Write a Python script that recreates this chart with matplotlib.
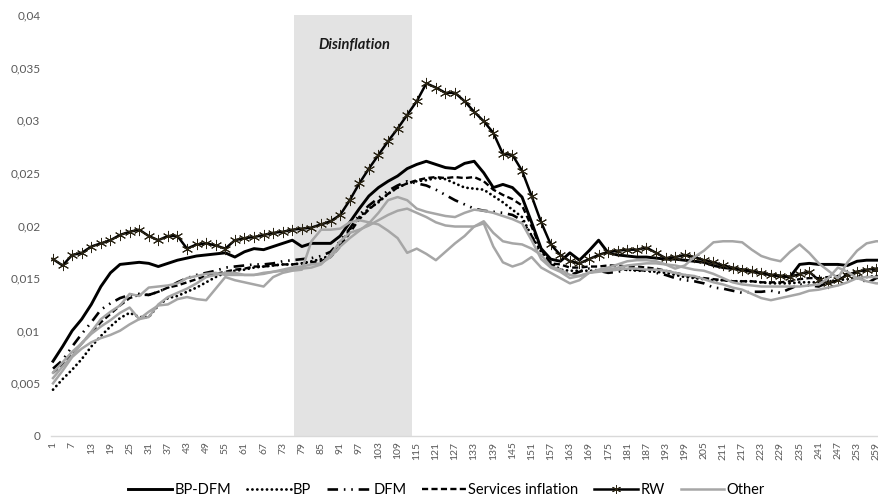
import matplotlib.pyplot as plt
import numpy as np

plt.rcParams['font.family'] = ['Lato', 'DejaVu Sans']

# observation index, sampled every 3rd period
obs = np.arange(1, 263, 3)
tick_obs = np.arange(1, 260, 6)

bp_dfm = [0.0071, 0.0085, 0.0100, 0.0111, 0.0125, 0.0142, 0.0155, 0.0163, 0.0164, 0.0165,
          0.0164, 0.0161, 0.0164, 0.0167, 0.0169, 0.0171, 0.0172, 0.0173, 0.0174, 0.0170,
          0.0175, 0.0178, 0.0177, 0.0180, 0.0183, 0.0186, 0.0180, 0.0183, 0.0183, 0.0183,
          0.0190, 0.0203, 0.0216, 0.0228, 0.0236, 0.0242, 0.0247, 0.0254, 0.0258, 0.0261,
          0.0258, 0.0255, 0.0254, 0.0259, 0.0261, 0.0250, 0.0236, 0.0239, 0.0236, 0.0227,
          0.0203, 0.0178, 0.0168, 0.0166, 0.0174, 0.0167, 0.0176, 0.0186, 0.0174, 0.0172,
          0.0171, 0.0170, 0.0170, 0.0169, 0.0168, 0.0168, 0.0167, 0.0166, 0.0165, 0.0162,
          0.0160, 0.0159, 0.0158, 0.0156, 0.0155, 0.0153, 0.0152, 0.0151, 0.0163, 0.0164,
          0.0163, 0.0163, 0.0163, 0.0162, 0.0166, 0.0167, 0.0167, 0.0167]

bp = [0.0044, 0.0054, 0.0063, 0.0073, 0.0085, 0.0095, 0.0104, 0.0112, 0.0117, 0.0113,
      0.0113, 0.0124, 0.0131, 0.0133, 0.0137, 0.0141, 0.0146, 0.0151, 0.0155, 0.0157,
      0.0158, 0.0160, 0.0161, 0.0162, 0.0163, 0.0163, 0.0164, 0.0166, 0.0168, 0.0172,
      0.0182, 0.0196, 0.0208, 0.0216, 0.0222, 0.0230, 0.0236, 0.0240, 0.0242, 0.0243,
      0.0245, 0.0244, 0.0240, 0.0236, 0.0235, 0.0234, 0.0228, 0.0222, 0.0215, 0.0208,
      0.0190, 0.0175, 0.0165, 0.0158, 0.0157, 0.0157, 0.0157, 0.0157, 0.0158, 0.0158,
      0.0158, 0.0157, 0.0157, 0.0156, 0.0155, 0.0153, 0.0151, 0.0150, 0.0149, 0.0148,
      0.0148, 0.0147, 0.0147, 0.0147, 0.0146, 0.0145, 0.0145, 0.0145, 0.0146, 0.0146,
      0.0146, 0.0147, 0.0148, 0.0149, 0.0150, 0.0151, 0.0152, 0.0152]

dfm = [0.0064, 0.0072, 0.0085, 0.0097, 0.0108, 0.0120, 0.0126, 0.0131, 0.0134, 0.0135,
       0.0134, 0.0137, 0.0141, 0.0146, 0.0150, 0.0153, 0.0155, 0.0157, 0.0160, 0.0161,
       0.0162, 0.0163, 0.0163, 0.0164, 0.0166, 0.0167, 0.0168, 0.0169, 0.0171, 0.0175,
       0.0185, 0.0197, 0.0210, 0.0219, 0.0226, 0.0233, 0.0238, 0.0242, 0.0240, 0.0238,
       0.0234, 0.0229, 0.0224, 0.0220, 0.0216, 0.0214, 0.0213, 0.0212, 0.0210, 0.0205,
       0.0190, 0.0172, 0.0163, 0.0158, 0.0153, 0.0156, 0.0159, 0.0157, 0.0155, 0.0156,
       0.0158, 0.0158, 0.0157, 0.0155, 0.0153, 0.0150, 0.0148, 0.0147, 0.0145, 0.0141,
       0.0140, 0.0138, 0.0136, 0.0137, 0.0137, 0.0138, 0.0136, 0.0140, 0.0144, 0.0143,
       0.0142, 0.0146, 0.0150, 0.0153, 0.0155, 0.0145, 0.0150, 0.0152]

services = [0.0060, 0.0068, 0.0078, 0.0088, 0.0098, 0.0108, 0.0116, 0.0124, 0.0131, 0.0134,
            0.0134, 0.0137, 0.0141, 0.0143, 0.0146, 0.0149, 0.0152, 0.0154, 0.0156, 0.0158,
            0.0159, 0.0161, 0.0161, 0.0162, 0.0163, 0.0163, 0.0164, 0.0165, 0.0166, 0.0170,
            0.0180, 0.0193, 0.0206, 0.0215, 0.0223, 0.0230, 0.0236, 0.0240, 0.0243, 0.0245,
            0.0246, 0.0245, 0.0246, 0.0245, 0.0246, 0.0242, 0.0234, 0.0229, 0.0225, 0.0219,
            0.0199, 0.0177, 0.0164, 0.0163, 0.0160, 0.0160, 0.0161, 0.0161, 0.0162, 0.0162,
            0.0161, 0.0161, 0.0160, 0.0159, 0.0157, 0.0155, 0.0153, 0.0151, 0.0150, 0.0149,
            0.0148, 0.0147, 0.0147, 0.0147, 0.0146, 0.0146, 0.0146, 0.0147, 0.0149, 0.0150,
            0.0150, 0.0151, 0.0152, 0.0154, 0.0156, 0.0157, 0.0157, 0.0157]

rw = [0.0168, 0.0162, 0.0172, 0.0174, 0.0180, 0.0183, 0.0186, 0.0191, 0.0194, 0.0196,
      0.0190, 0.0186, 0.0190, 0.0190, 0.0178, 0.0182, 0.0183, 0.0181, 0.0178, 0.0186,
      0.0188, 0.0189, 0.0191, 0.0193, 0.0194, 0.0196, 0.0197, 0.0198, 0.0201, 0.0204,
      0.0210, 0.0224, 0.0240, 0.0254, 0.0267, 0.0280, 0.0292, 0.0305, 0.0318, 0.0335,
      0.0331, 0.0326, 0.0326, 0.0318, 0.0308, 0.0299, 0.0288, 0.0268, 0.0267, 0.0252,
      0.0228, 0.0203, 0.0182, 0.0172, 0.0166, 0.0164, 0.0168, 0.0172, 0.0175, 0.0176,
      0.0177, 0.0177, 0.0179, 0.0174, 0.0169, 0.0170, 0.0172, 0.0170, 0.0167, 0.0165,
      0.0162, 0.0160, 0.0158, 0.0157, 0.0155, 0.0153, 0.0152, 0.0151, 0.0154, 0.0156,
      0.0148, 0.0145, 0.0148, 0.0153, 0.0156, 0.0158, 0.0159, 0.0160]

other1 = [0.0050, 0.0062, 0.0075, 0.0083, 0.0089, 0.0093, 0.0096, 0.0100, 0.0106, 0.0111,
          0.0118, 0.0124, 0.0125, 0.0130, 0.0132, 0.0130, 0.0129, 0.0140, 0.0151, 0.0148,
          0.0146, 0.0144, 0.0142, 0.0151, 0.0155, 0.0157, 0.0158, 0.0185, 0.0196, 0.0196,
          0.0197, 0.0203, 0.0205, 0.0203, 0.0201, 0.0195, 0.0188, 0.0174, 0.0178, 0.0173,
          0.0167, 0.0175, 0.0183, 0.0190, 0.0199, 0.0202, 0.0180, 0.0165, 0.0161, 0.0164,
          0.0170, 0.0160, 0.0155, 0.0150, 0.0145, 0.0148, 0.0155, 0.0156, 0.0157, 0.0158,
          0.0159, 0.0159, 0.0158, 0.0158, 0.0157, 0.0155, 0.0153, 0.0152, 0.0149, 0.0146,
          0.0144, 0.0141, 0.0139, 0.0135, 0.0131, 0.0129, 0.0131, 0.0133, 0.0135, 0.0138,
          0.0139, 0.0141, 0.0143, 0.0146, 0.0150, 0.0151, 0.0151, 0.0151]

other2 = [0.0055, 0.0066, 0.0076, 0.0088, 0.0099, 0.0111, 0.0118, 0.0124, 0.0135, 0.0133,
          0.0141, 0.0142, 0.0143, 0.0145, 0.0150, 0.0152, 0.0154, 0.0155, 0.0153, 0.0153,
          0.0153, 0.0153, 0.0154, 0.0156, 0.0158, 0.0160, 0.0161, 0.0163, 0.0164, 0.0170,
          0.0180, 0.0188, 0.0195, 0.0202, 0.0212, 0.0224, 0.0227, 0.0224, 0.0216, 0.0213,
          0.0211, 0.0209, 0.0208, 0.0212, 0.0215, 0.0214, 0.0212, 0.0209, 0.0206, 0.0202,
          0.0186, 0.0168, 0.0160, 0.0156, 0.0150, 0.0152, 0.0155, 0.0158, 0.0160, 0.0163,
          0.0166, 0.0167, 0.0167, 0.0166, 0.0163, 0.0159, 0.0162, 0.0170, 0.0176, 0.0184,
          0.0185, 0.0185, 0.0184, 0.0177, 0.0171, 0.0168, 0.0166, 0.0175, 0.0182, 0.0174,
          0.0164, 0.0157, 0.0150, 0.0165, 0.0176, 0.0183, 0.0185, 0.0185]

other3 = [0.0060, 0.0070, 0.0080, 0.0088, 0.0097, 0.0104, 0.0110, 0.0117, 0.0122, 0.0111,
          0.0113, 0.0125, 0.0132, 0.0136, 0.0140, 0.0145, 0.0151, 0.0153, 0.0155, 0.0155,
          0.0153, 0.0153, 0.0155, 0.0156, 0.0157, 0.0159, 0.0159, 0.0160, 0.0163, 0.0172,
          0.0185, 0.0193, 0.0196, 0.0200, 0.0205, 0.0210, 0.0214, 0.0216, 0.0212, 0.0208,
          0.0203, 0.0200, 0.0199, 0.0199, 0.0199, 0.0204, 0.0193, 0.0185, 0.0183, 0.0182,
          0.0178, 0.0172, 0.0161, 0.0158, 0.0153, 0.0152, 0.0155, 0.0157, 0.0158, 0.0160,
          0.0162, 0.0163, 0.0164, 0.0164, 0.0163, 0.0162, 0.0160, 0.0158, 0.0157, 0.0154,
          0.0150, 0.0146, 0.0144, 0.0143, 0.0142, 0.0142, 0.0142, 0.0142, 0.0142, 0.0143,
          0.0144, 0.0150, 0.0160, 0.0156, 0.0150, 0.0147, 0.0145, 0.0145]

disinfl_start, disinfl_end = 76.5, 113.5

fig = plt.figure(figsize=(8.79, 4.99), dpi=100)
ax = fig.add_axes([0.0585, 0.1263, 0.951, 0.8437])

ax.axvspan(disinfl_start, disinfl_end, color='#e3e3e3', lw=0, zorder=0)
ax.text(95.5, 0.0371, 'Disinflation', fontsize=10.5, fontweight='bold', style='italic',
        ha='center', va='center', color='#1a1a1a')

ax.plot(obs, bp_dfm, color='black', lw=2.1, label='BP-DFM', zorder=3)
ax.plot(obs, bp, color='black', lw=2.0, ls=(0, (0.05, 1.7)), dash_capstyle='round',
        solid_capstyle='round', label='BP', zorder=3)
ax.plot(obs, dfm, color='black', lw=1.9, ls=(0, (4, 2.2, 0.6, 2.2, 0.6, 2.2)), label='DFM', zorder=3)
ax.plot(obs, services, color='black', lw=1.7, ls=(0, (2.6, 1.4)), label='Services inflation', zorder=3)
ax.plot(obs, rw, color='black', lw=1.8, marker=(6, 2, 0), ms=8, mec='#2a2414', mew=0.7,
        label='RW', zorder=4)
ax.plot(obs, other1, color='#a6a6a6', lw=1.8, label='Other', zorder=5)
ax.plot(obs, other2, color='#a6a6a6', lw=1.8, label='_nolegend_', zorder=5)
ax.plot(obs, other3, color='#a6a6a6', lw=1.8, label='_nolegend_', zorder=5)

ax.set_xlim(0.5, 262.5)
ax.set_ylim(0, 0.04)
ax.set_xticks(tick_obs)
ax.set_xticklabels([str(t) for t in tick_obs], rotation=90, fontsize=7.5, color='#595959')
yt = np.arange(0, 0.0401, 0.005)
ax.set_yticks(yt)
ax.set_yticklabels(['0'] + [f'{v:g}'.replace('.', ',') for v in yt[1:]], fontsize=8.5, color='#595959')
ax.tick_params(length=0)
ax.tick_params(axis='y', pad=8)
ax.tick_params(axis='x', pad=4)
for s in ['top', 'right', 'left']:
    ax.spines[s].set_visible(False)
ax.spines['bottom'].set_color('#d9d9d9')
ax.spines['bottom'].set_linewidth(1.0)

fig.legend(loc='center', bbox_to_anchor=(0.508, 0.018), ncol=6, frameon=False, fontsize=10.5,
           handlelength=3.0, handletextpad=0.15, columnspacing=1.1, markerscale=0.8)

fig.savefig('out.png', dpi=100)
